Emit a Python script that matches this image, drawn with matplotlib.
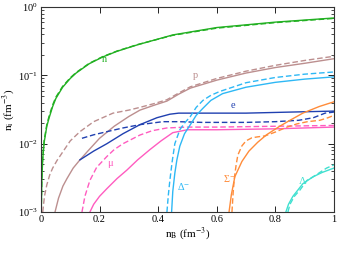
import matplotlib
matplotlib.use("Agg")
import matplotlib.pyplot as plt
from matplotlib.ticker import LogLocator, NullFormatter

plt.rcParams['font.family'] = ['Liberation Serif', 'DejaVu Serif']
plt.rcParams['mathtext.fontset'] = 'stix'

# neutrons
n_x = [0.001, 0.003, 0.006, 0.011, 0.02, 0.028, 0.04, 0.051, 0.074, 0.1, 0.12, 0.165, 0.21, 0.26, 0.33, 0.45, 0.6, 0.8, 1.0]
n_y = [0.001, 0.003, 0.006, 0.0105, 0.018, 0.024, 0.035, 0.046, 0.067, 0.09, 0.108, 0.148, 0.185, 0.225, 0.28, 0.39, 0.5, 0.6, 0.69]
n2_x = [0.001, 0.003, 0.006, 0.011, 0.02, 0.028, 0.04, 0.051, 0.074, 0.1, 0.12, 0.165, 0.21, 0.26, 0.33, 0.45, 0.6, 0.8, 1.0]
n2_y = [0.001, 0.0031, 0.0063, 0.0112, 0.019, 0.0255, 0.037, 0.048, 0.069, 0.092, 0.11, 0.15, 0.187, 0.227, 0.282, 0.385, 0.49, 0.59, 0.68]

# protons
p_x = [0.048, 0.06, 0.075, 0.089, 0.11, 0.133, 0.16, 0.2, 0.25, 0.3, 0.338, 0.39, 0.43, 0.47, 0.51, 0.6, 0.7, 0.8, 0.9, 1.0]
p_y = [0.001, 0.0016, 0.0024, 0.0031, 0.0044, 0.0058, 0.0078, 0.012, 0.018, 0.025, 0.031, 0.037, 0.042, 0.053, 0.065, 0.085, 0.108, 0.13, 0.15, 0.175]
p2_x = [0.006, 0.012, 0.02, 0.03, 0.04, 0.055, 0.07, 0.1, 0.133, 0.18, 0.246, 0.3, 0.338, 0.39, 0.43, 0.47, 0.51, 0.6, 0.7, 0.8, 0.9, 1.0]
p2_y = [0.001, 0.0017, 0.0025, 0.0035, 0.0044, 0.0057, 0.0071, 0.011, 0.015, 0.021, 0.028, 0.031, 0.034, 0.039, 0.044, 0.055, 0.068, 0.09, 0.115, 0.14, 0.165, 0.19]

# electrons
e_x = [0.133, 0.18, 0.225, 0.28, 0.338, 0.396, 0.44, 0.47, 0.55, 0.7, 0.85, 1.0]
e_y = [0.0058, 0.0078, 0.010, 0.014, 0.019, 0.024, 0.027, 0.028, 0.028, 0.028, 0.029, 0.030]
e2_x = [0.14, 0.18, 0.225, 0.28, 0.338, 0.416, 0.47, 0.55, 0.7, 0.8, 0.88, 0.93, 0.97, 1.0]
e2_y = [0.012, 0.0135, 0.015, 0.017, 0.019, 0.021, 0.021, 0.0205, 0.0205, 0.021, 0.022, 0.024, 0.028, 0.029]

# muons
mu_x = [0.167, 0.18, 0.2, 0.225, 0.26, 0.293, 0.33, 0.372, 0.41, 0.45, 0.5, 0.6, 0.8, 1.0]
mu_y = [0.001, 0.0013, 0.0017, 0.0022, 0.0031, 0.0041, 0.0058, 0.0082, 0.011, 0.0145, 0.016, 0.016, 0.0165, 0.0175]
mu2_x = [0.14, 0.15, 0.167, 0.19, 0.225, 0.25, 0.28, 0.338, 0.38, 0.43, 0.5, 0.6, 0.8, 1.0]
mu2_y = [0.001, 0.0017, 0.0029, 0.0045, 0.0065, 0.0082, 0.010, 0.0134, 0.0155, 0.017, 0.0175, 0.0175, 0.018, 0.0185]

# Delta-
d_x = [0.446, 0.45, 0.457, 0.464, 0.474, 0.49, 0.51, 0.53, 0.553, 0.58, 0.62, 0.7, 0.8, 0.9, 1.0]
d_y = [0.001, 0.002, 0.0037, 0.0058, 0.0092, 0.014, 0.019, 0.026, 0.033, 0.043, 0.054, 0.067, 0.079, 0.088, 0.095]
d2_x = [0.43, 0.435, 0.44, 0.448, 0.457, 0.474, 0.49, 0.51, 0.53, 0.553, 0.58, 0.61, 0.7, 0.8, 0.9, 1.0]
d2_y = [0.001, 0.0018, 0.0029, 0.0055, 0.010, 0.016, 0.020, 0.025, 0.034, 0.043, 0.051, 0.058, 0.078, 0.093, 0.104, 0.112]

# Sigma-
s_x = [0.642, 0.65, 0.662, 0.686, 0.71, 0.74, 0.77, 0.815, 0.85, 0.894, 0.95, 1.0]
s_y = [0.001, 0.0018, 0.0033, 0.0055, 0.0078, 0.0105, 0.0135, 0.018, 0.022, 0.028, 0.035, 0.041]
s2_x = [0.652, 0.656, 0.66, 0.666, 0.672, 0.686, 0.70, 0.72, 0.74, 0.765, 0.80, 0.84, 0.874, 0.91, 0.952, 0.98, 1.0]
s2_y = [0.001, 0.0019, 0.0031, 0.0048, 0.0068, 0.0093, 0.011, 0.0122, 0.0126, 0.013, 0.0148, 0.0175, 0.0195, 0.021, 0.022, 0.024, 0.026]

# Lambda
l_x = [0.836, 0.845, 0.86, 0.877, 0.894, 0.91, 0.93, 0.96, 1.0]
l_y = [0.001, 0.0013, 0.0017, 0.0021, 0.0026, 0.0029, 0.0033, 0.0038, 0.0044]
l2_x = [0.843, 0.85, 0.865, 0.884, 0.908, 0.93, 0.952, 0.975, 1.0]
l2_y = [0.001, 0.0013, 0.0017, 0.0021, 0.0029, 0.0033, 0.0038, 0.0044, 0.0049]

green = '#22b022'
rosy = '#bc8f8f'
blue = '#2040b0'
pink = '#ff5cc0'
cyan = '#2eb8f5'
orange = '#ff8c3a'
turq = '#40e0d0'

fig = plt.figure(figsize=(3.5, 2.58), dpi=100)
ax = fig.add_axes([0.117, 0.178, 0.837, 0.795])

lw = 1.0
dash = (0, (4, 2))
series = [
    (n_x, n_y, n2_x, n2_y, green),
    (p_x, p_y, p2_x, p2_y, rosy),
    (e_x, e_y, e2_x, e2_y, blue),
    (mu_x, mu_y, mu2_x, mu2_y, pink),
    (d_x, d_y, d2_x, d2_y, cyan),
    (s_x, s_y, s2_x, s2_y, orange),
    (l_x, l_y, l2_x, l2_y, turq),
]
for xs, ys, xd, yd, c in series:
    ax.plot(xs, ys, color=c, lw=lw)
    ax.plot(xd, yd, color=c, lw=lw, linestyle=dash)

fs = 7.5
ax.text(0.218, 0.168, 'n', color=green, fontsize=fs, ha='center', va='center')
ax.text(0.526, 0.101, 'p', color=rosy, fontsize=fs, ha='center', va='center')
ax.text(0.655, 0.0367, 'e', color=blue, fontsize=fs, ha='center', va='center')
ax.text(0.235, 0.0052, 'μ', color=pink, fontsize=fs, ha='center', va='center')
ax.text(0.487, 0.0024, 'Δ$^{-}$', color=cyan, fontsize=fs, ha='center', va='center')
ax.text(0.642, 0.0031, 'Σ$^{-}$', color=orange, fontsize=fs, ha='center', va='center')
ax.text(0.894, 0.0028, 'Λ', color=turq, fontsize=fs, ha='center', va='center')

ax.set_yscale('log')
ax.set_xlim(0, 1)
ax.set_ylim(1e-3, 1)
ax.set_xticks([0, 0.2, 0.4, 0.6, 0.8, 1.0])
ax.set_xticklabels(['0', '0.2', '0.4', '0.6', '0.8', '1'])
ax.yaxis.set_major_locator(LogLocator(base=10, numticks=10))
ax.yaxis.set_minor_locator(LogLocator(base=10, subs=range(2, 10), numticks=10))
ax.yaxis.set_minor_formatter(NullFormatter())
ax.tick_params(which='both', direction='in', top=True, right=True, labelsize=7.5, pad=2)
ax.tick_params(which='major', length=4, width=0.6)
ax.tick_params(which='minor', length=2, width=0.5)
for s in ax.spines.values():
    s.set_linewidth(0.8)
    s.set_color('#333333')

ax.set_xlabel('n$_\\mathrm{B}$ (fm$^{-3}$)', fontsize=8, labelpad=1)
ax.set_ylabel('n$_\\mathrm{i}$ (fm$^{-3}$)', fontsize=8, labelpad=1)

fig.savefig('out.png', dpi=100)
